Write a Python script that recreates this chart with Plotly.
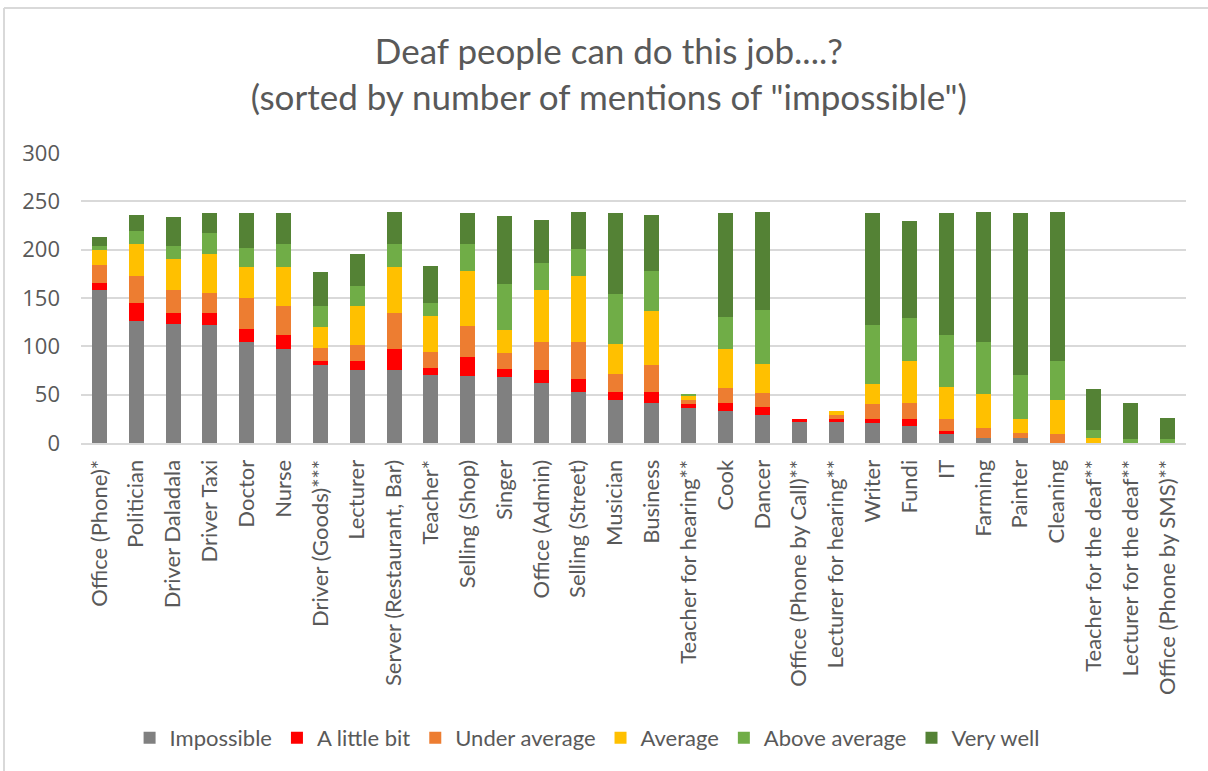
import plotly.graph_objects as go

# Jobs, sorted by the number of "impossible" answers
jobs = [
    "Office (Phone)*", "Politician", "Driver Daladala", "Driver Taxi", "Doctor",
    "Nurse", "Driver (Goods)***", "Lecturer", "Server (Restaurant, Bar)", "Teacher*",
    "Selling (Shop)", "Singer", "Office (Admin)", "Selling (Street)", "Musician",
    "Business", "Teacher for hearing**", "Cook", "Dancer", "Office (Phone by Call)**",
    "Lecturer for hearing**", "Writer", "Fundi", "IT", "Farming",
    "Painter", "Cleaning", "Teacher for the deaf**", "Lecturer for the deaf**",
    "Office (Phone by SMS)**",
]

impossible = [158, 126, 123, 122, 105, 97, 81, 76, 76, 70, 69, 68, 62, 53, 45,
              41, 36, 33, 29, 22, 22, 21, 18, 9, 5, 5, 0, 0, 0, 0]
a_little_bit = [8, 19, 11, 12, 13, 15, 4, 9, 21, 8, 20, 9, 14, 13, 8,
                12, 4, 8, 8, 3, 3, 4, 7, 3, 0, 0, 0, 0, 0, 0]
under_average = [18, 28, 24, 21, 32, 30, 13, 16, 37, 16, 32, 16, 28, 39, 18,
                 28, 4, 16, 15, 0, 4, 15, 16, 13, 11, 5, 9, 0, 0, 0]
average = [16, 33, 32, 41, 32, 40, 22, 41, 48, 37, 57, 24, 54, 68, 31,
           56, 5, 40, 30, 0, 4, 21, 44, 33, 35, 15, 35, 5, 0, 0]
above_average = [4, 13, 14, 21, 20, 24, 22, 20, 24, 14, 28, 48, 28, 28, 52,
                 41, 2, 33, 56, 0, 0, 61, 44, 54, 53, 45, 41, 8, 4, 4]
very_well = [9, 17, 30, 21, 36, 32, 35, 34, 33, 38, 32, 70, 45, 38, 84,
             58, 0, 108, 101, 0, 0, 116, 101, 126, 135, 168, 154, 43, 37, 22]

y_ticks = [0, 50, 100, 150, 200, 250, 300]

series = [
    ("Impossible", impossible, "#808080"),
    ("A little bit", a_little_bit, "#FF0000"),
    ("Under average", under_average, "#ED7D31"),
    ("Average", average, "#FFC000"),
    ("Above average", above_average, "#70AD47"),
    ("Very well", very_well, "#548235"),
]

FONT = "Lato"
TEXT = "#595959"
GRID = "#D9D9D9"

# plot area in pixels: left 81, width 1105; top 153, height 290
PX_L, PX_W, PX_B, PX_H = 81, 1105, 443, 290


def px_x(x):
    return (x - PX_L) / PX_W


def px_y(y):
    return (PX_B - y) / PX_H


fig = go.Figure()
for name, values, color in series:
    fig.add_trace(go.Bar(
        name=name, x=jobs, y=values,
        marker=dict(color=color, line=dict(width=0)),
    ))

fig.update_layout(
    barmode="stack",
    bargap=0.59,
    width=1208, height=771,
    margin=dict(l=81, r=22, t=153, b=328),
    paper_bgcolor="white", plot_bgcolor="white",
    font=dict(family=FONT, color=TEXT),
    title=dict(
        text="Deaf people can do this job....?<br>(sorted by number of mentions of \"impossible\")",
        x=0.504, xanchor="center", y=1 - 64 / 771, yref="container", yanchor="top",
        font=dict(family=FONT, size=35, color=TEXT),
    ),
    legend=dict(
        orientation="h", x=0.486, xref="container", xanchor="center",
        y=0.043, yref="container", yanchor="middle",
        font=dict(family=FONT, size=22, color=TEXT),
        itemwidth=30, traceorder="normal",
    ),
    xaxis=dict(
        tickangle=-90, tickfont=dict(family=FONT, size=22, color=TEXT),
        showgrid=False, showline=True, linecolor=GRID, linewidth=2,
        ticks="", ticklabelstandoff=6,
    ),
    yaxis=dict(
        range=[0, 300], tickvals=y_ticks,
        tickfont=dict(family="Open Sans", size=22, color=TEXT),
        showgrid=True, gridcolor=GRID, gridwidth=2,
        zeroline=False, showline=False, ticks="", ticklabelstandoff=20,
    ),
    shapes=[
        dict(type="line", xref="paper", yref="paper",
             x0=px_x(4), x1=px_x(1210), y0=px_y(8), y1=px_y(8),
             line=dict(color=GRID, width=2)),
        dict(type="line", xref="paper", yref="paper",
             x0=px_x(4), x1=px_x(4), y0=px_y(8), y1=px_y(775),
             line=dict(color=GRID, width=2)),
    ],
)

fig.write_html("out.html")
